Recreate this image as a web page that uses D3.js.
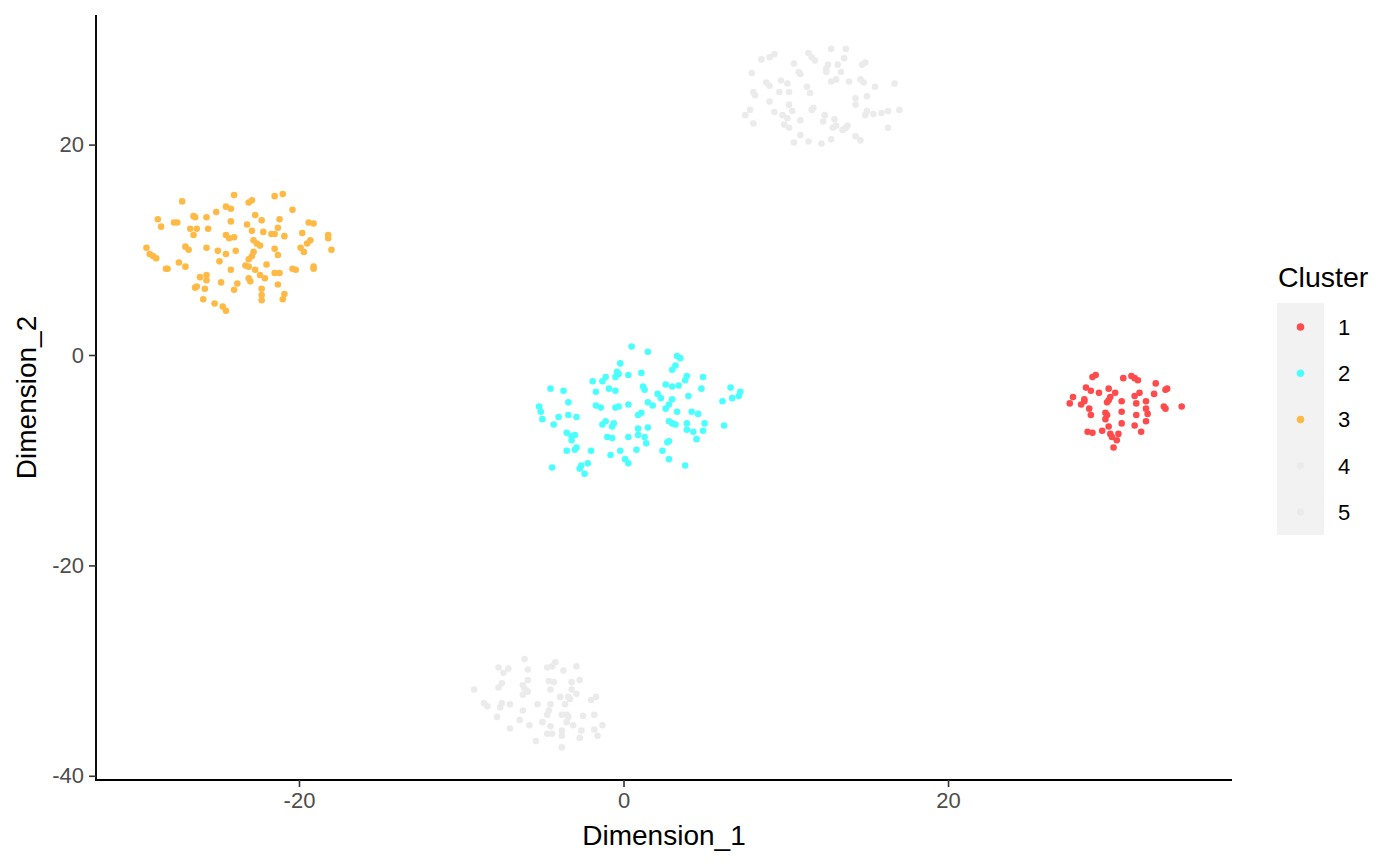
<!DOCTYPE html>
<html>
<head>
<meta charset="utf-8">
<script src="https://cdn.jsdelivr.net/npm/d3@7"></script>
<style>
  html, body { margin: 0; padding: 0; background: #ffffff; }
  svg { display: block; font-family: "Liberation Sans", Arial, Helvetica, sans-serif; }
</style>
</head>
<body>
<svg id="chart" width="1400" height="866"></svg>
<script>
// ---- data (Dimension_1, Dimension_2) per cluster ----
const cluster1 = [
  [28.9,-2.1],[29.1,-1.9],[30.8,-2.2],[31.3,-2.0],[31.5,-2.2],[31.7,-2.4],[32.8,-2.7],
  [28.5,-3.1],[28.8,-3.4],[29.3,-3.6],[29.9,-3.2],[30.3,-3.6],[31.8,-3.6],[31.5,-3.9],
  [32.7,-3.7],[33.4,-3.3],[33.5,-3.2],[27.7,-4.0],[27.5,-4.6],[28.4,-4.2],[28.4,-4.4],
  [28.2,-4.7],[30.0,-4.0],[29.9,-4.3],[29.8,-4.5],[30.7,-4.4],[31.6,-4.6],[32.2,-4.4],
  [28.7,-5.1],[28.8,-5.7],[32.2,-5.1],[32.3,-5.6],[33.3,-4.9],[33.4,-5.1],[34.4,-4.9],
  [30.7,-5.4],[29.7,-5.5],[29.8,-5.7],[29.7,-6.1],[31.6,-5.7],[32.2,-6.3],[30.7,-6.5],
  [29.9,-6.8],[31.5,-6.7],[28.6,-7.3],[28.9,-7.4],[29.5,-7.2],[31.9,-7.3],[30.0,-7.5],
  [30.1,-7.8],[30.5,-7.5],[30.4,-8.1],[30.2,-8.8]
];
const cluster2 = [
  [0.5,0.8],[-0.2,-0.8],[-0.4,-1.6],[-0.3,-1.8],[-0.5,-2.1],[0.3,-1.9],[-1.9,-2.5],
  [-1.3,-2.5],[-1.1,-2.1],[-0.9,-3.2],[-0.5,-3.4],[-1.7,-3.5],[-4.5,-3.2],[-3.7,-3.4],
  [-3.4,-4.5],[-5.2,-4.9],[-5.1,-5.4],[-5.0,-6.1],[-1.7,-4.8],[-1.4,-5.0],[-0.5,-5.0],
  [-0.3,-4.9],[0.3,-4.7],[-4.0,-5.9],[-3.4,-5.7],[-2.9,-5.9],[-4.3,-6.6],[-1.3,-6.6],
  [-1.1,-6.3],[-0.6,-6.5],[-0.7,-6.8],[-3.5,-7.4],[-3.2,-7.7],[-3.0,-7.6],[-3.2,-8.1],
  [-1.0,-7.8],[-0.7,-7.9],[0.3,-7.8],[-3.5,-9.1],[-3.0,-9.0],[-2.9,-8.8],[-2.0,-9.1],
  [-0.8,-9.5],[-0.2,-9.1],[0.1,-9.9],[0.3,-10.3],[-4.4,-10.7],[-2.7,-10.8],[-2.6,-10.5],
  [-2.2,-10.3],[-2.4,-11.3],
  [1.5,0.3],[3.3,-0.1],[3.5,-0.3],[3.2,-1.0],[3.0,-1.4],[1.1,-1.7],[3.9,-2.0],
  [3.8,-2.4],[4.9,-2.1],[1.2,-3.0],[1.3,-3.3],[2.6,-2.8],[3.0,-3.0],[3.4,-2.9],
  [4.8,-3.2],[6.6,-3.1],[7.2,-3.5],[7.1,-3.9],[6.7,-4.1],[6.1,-4.4],[2.1,-3.7],
  [2.3,-4.1],[4.0,-3.9],[3.0,-4.2],[2.8,-4.7],[2.6,-5.1],[1.5,-4.5],[1.8,-4.8],
  [0.9,-5.7],[1.1,-5.5],[3.3,-5.4],[4.2,-5.4],[4.6,-5.6],[2.8,-6.3],[3.0,-6.5],
  [3.2,-6.6],[3.9,-6.5],[5.0,-6.5],[6.2,-6.7],[0.9,-7.0],[1.5,-6.9],[3.9,-7.1],
  [4.3,-7.3],[4.9,-7.2],[0.9,-7.6],[1.3,-7.8],[1.4,-8.4],[4.5,-8.0],[2.7,-8.3],
  [2.8,-8.2],[0.8,-9.0],[2.4,-9.1],[2.8,-9.9],[3.8,-10.5]
];
const cluster3 = [
  [-27.2,14.6],[-24.0,15.2],[-28.7,12.9],[-28.5,12.2],[-27.7,12.6],[-27.5,12.6],
  [-26.5,13.2],[-26.4,13.1],[-25.7,13.1],[-25.1,13.6],[-24.5,14.1],[-24.2,13.9],
  [-24.2,12.7],[-26.7,12.0],[-26.3,12.0],[-26.5,11.4],[-25.6,12.0],[-24.5,11.4],
  [-24.3,11.1],[-24.0,11.2],[-29.4,10.2],[-29.2,9.6],[-29.0,9.4],[-28.8,9.2],
  [-27.0,10.3],[-26.8,10.0],[-25.7,10.2],[-25.0,9.9],[-24.5,9.6],[-23.9,9.9],
  [-24.9,8.9],[-28.2,8.2],[-28.1,8.2],[-27.4,8.8],[-27.0,8.4],[-24.2,8.1],
  [-26.1,7.4],[-25.7,7.6],[-25.7,7.1],[-24.8,6.9],[-23.8,6.8],[-26.4,6.4],
  [-26.3,6.5],[-25.8,6.3],[-24.0,6.2],[-25.9,5.3],[-25.2,4.9],[-24.7,4.6],[-24.5,4.2],
  [-21.5,15.1],[-21.0,15.3],[-23.1,14.5],[-22.9,14.7],[-20.4,13.8],[-22.7,13.3],
  [-22.3,12.8],[-21.2,12.9],[-23.2,12.4],[-22.9,11.8],[-22.2,11.7],[-21.3,12.1],
  [-21.7,11.5],[-21.5,11.5],[-20.9,11.3],[-19.4,12.6],[-19.1,12.5],[-19.8,11.6],
  [-18.2,11.4],[-18.2,11.1],[-22.8,10.9],[-22.6,10.6],[-22.4,10.4],[-19.3,10.9],
  [-19.5,10.6],[-21.5,10.1],[-19.9,10.2],[-19.7,9.8],[-18.0,10.0],[-22.8,9.8],
  [-22.9,9.4],[-23.1,9.1],[-21.3,9.5],[-23.3,8.5],[-23.1,8.4],[-22.0,8.6],
  [-22.7,8.1],[-20.4,8.2],[-20.2,8.1],[-19.1,8.4],[-19.1,8.2],[-21.5,7.8],
  [-21.2,7.8],[-22.4,7.6],[-22.1,7.3],[-23.1,7.3],[-23.0,7.0],[-21.3,6.7],
  [-22.3,6.3],[-22.3,5.7],[-22.3,5.2],[-20.9,5.8],[-21.0,5.3]
];
const cluster4 = [
  [8.5,28.1],[9.0,28.3],[9.3,28.6],[11.4,28.7],[11.6,28.3],[11.8,28.0],[10.5,27.7],
  [7.9,26.8],[10.8,26.9],[10.9,26.7],[8.8,25.9],[9.0,25.6],[9.7,26.1],[10.1,25.8],
  [9.6,25.0],[10.2,25.0],[11.3,25.5],[11.5,24.9],[8.0,25.0],[8.1,24.7],[9.0,24.1],
  [10.2,23.8],[10.4,23.2],[11.7,23.5],[11.6,23.3],[7.8,23.3],[7.5,22.8],[9.3,23.1],
  [9.8,22.8],[10.1,22.5],[10.9,22.3],[8.0,22.0],[9.9,21.9],[10.2,21.6],[10.9,20.9],
  [10.5,20.2],[11.4,20.3],[12.2,20.1],[12.3,22.2],
  [12.8,29.1],[13.7,29.1],[13.6,28.2],[13.2,27.6],[12.6,27.6],[12.5,27.2],[12.5,26.9],
  [14.7,27.6],[14.9,27.8],[13.4,26.9],[12.8,26.0],[13.1,26.2],[13.9,26.0],[14.6,26.2],
  [14.8,25.9],[15.5,25.5],[16.7,25.8],[14.3,24.4],[14.3,23.8],[15.0,24.6],[15.0,23.2],
  [14.9,22.8],[15.4,22.9],[15.9,23.0],[16.3,23.2],[17.0,23.3],[12.4,22.8],[13.0,22.4],
  [12.9,21.6],[13.1,21.8],[13.5,21.4],[13.7,21.6],[13.8,21.8],[16.3,21.6],[14.3,20.8],
  [14.6,20.4],[12.8,20.5]
];
const cluster5 = [
  [-6.1,-28.9],[-7.7,-29.7],[-7.1,-29.8],[-7.4,-30.2],[-5.9,-29.9],[-4.7,-29.7],
  [-4.4,-29.6],[-4.2,-29.2],[-3.7,-30.0],[-2.9,-29.6],[-5.9,-30.9],[-4.6,-31.0],
  [-4.3,-31.1],[-3.2,-31.1],[-2.7,-30.9],[-9.2,-31.8],[-7.7,-31.6],[-7.5,-31.2],
  [-6.2,-31.4],[-6.1,-31.7],[-5.9,-32.0],[-6.2,-32.3],[-4.5,-31.8],[-3.2,-31.8],
  [-2.9,-32.2],[-3.9,-32.5],[-3.4,-32.5],[-3.3,-32.7],[-2.0,-32.8],[-1.7,-32.5],
  [-8.6,-33.1],[-8.4,-33.4],[-7.5,-33.1],[-7.6,-33.5],[-7.0,-33.2],[-5.3,-33.2],
  [-4.5,-33.2],[-3.6,-33.2],[-6.2,-33.8],[-4.6,-33.8],[-4.7,-34.2],[-7.8,-34.4],
  [-3.8,-34.2],[-3.5,-34.2],[-3.4,-34.4],[-2.5,-34.3],[-1.8,-34.2],[-6.4,-34.7],
  [-5.0,-34.9],[-3.5,-34.9],[-5.8,-35.2],[-4.5,-35.3],[-3.1,-35.2],[-7.0,-35.5],
  [-3.8,-35.7],[-2.6,-35.7],[-1.8,-35.6],[-1.3,-35.2],[-4.7,-36.0],[-4.4,-36.0],
  [-3.8,-36.2],[-2.7,-36.4],[-1.6,-36.2],[-5.4,-36.7],[-3.8,-37.3]
];

const clusterNames = ["1", "2", "3", "4", "5"];
const clusterData = [cluster1, cluster2, cluster3, cluster4, cluster5];
const clusterColors = ["#FF4B4B", "#4BFFFF", "#FFBA45", "#EBEBEB", "#EBEBEB"];
const xTicks = [-20, 0, 20];
const yTicks = [-40, -20, 0, 20];
const xTitle = "Dimension_1";
const yTitle = "Dimension_2";
const legendTitle = "Cluster";

// ---- layout ----
const panel = { left: 96, right: 1232, top: 15, bottom: 780 };
const svg = d3.select("#chart");

const x = d3.scaleLinear().domain([-32.51, 37.5]).range([panel.left, panel.right]);
const y = d3.scaleLinear().domain([-40.4, 32.32]).range([panel.bottom, panel.top]);

const color = d3.scaleOrdinal().domain(clusterNames).range(clusterColors);

// points
const pts = [];
clusterData.forEach((arr, i) => arr.forEach(p => pts.push({ x: p[0], y: p[1], c: clusterNames[i] })));

svg.append("g").selectAll("circle").data(pts).join("circle")
  .attr("cx", d => x(d.x)).attr("cy", d => y(d.y)).attr("r", 3.3)
  .attr("fill", d => color(d.c));

// axes
const tickFont = 22;
const fmt = d => String(d);
const xAxis = svg.append("g").attr("transform", `translate(0,${panel.bottom})`)
  .call(d3.axisBottom(x).tickValues(xTicks).tickFormat(fmt).tickSize(7).tickSizeOuter(0).tickPadding(5));
const yAxis = svg.append("g").attr("transform", `translate(${panel.left},0)`)
  .call(d3.axisLeft(y).tickValues(yTicks).tickFormat(fmt).tickSize(7).tickSizeOuter(0).tickPadding(5));

[xAxis, yAxis].forEach(a => {
  a.select(".domain").attr("stroke", "#000").attr("stroke-width", 1.9);
  a.selectAll(".tick line").attr("stroke", "#333").attr("stroke-width", 1.6);
  a.selectAll(".tick text").attr("fill", "#4D4D4D")
    .style("font-size", tickFont + "px").style("font-family", "Liberation Sans, Arial, sans-serif");
});
// extend axis lines to meet at corner
xAxis.select(".domain").attr("d", `M${panel.left - 1},0H${panel.right}`);
yAxis.select(".domain").attr("d", `M0,${panel.top}V${panel.bottom + 1}`);

// axis titles
svg.append("text").attr("x", (panel.left + panel.right) / 2).attr("y", 845)
  .attr("text-anchor", "middle").style("font-size", "28px").attr("fill", "#000").text(xTitle);
svg.append("text").attr("transform", `translate(36,${(panel.top + panel.bottom) / 2}) rotate(-90)`)
  .attr("text-anchor", "middle").style("font-size", "28px").attr("fill", "#000").text(yTitle);

// legend
const lg = svg.append("g");
lg.append("text").attr("x", 1278).attr("y", 287).style("font-size", "28.5px").attr("fill", "#000").text(legendTitle);
lg.append("rect").attr("x", 1277).attr("y", 303).attr("width", 47).attr("height", 232).attr("fill", "#F2F2F2");
const keyY = d3.scalePoint().domain(clusterNames).range([327, 512]);
clusterNames.forEach(n => {
  lg.append("circle").attr("cx", 1300.5).attr("cy", keyY(n)).attr("r", 3.8).attr("fill", color(n));
  lg.append("text").attr("x", 1338).attr("y", keyY(n)).attr("dy", "0.36em")
    .style("font-size", tickFont + "px").attr("fill", "#000").text(n);
});
</script>
</body>
</html>
